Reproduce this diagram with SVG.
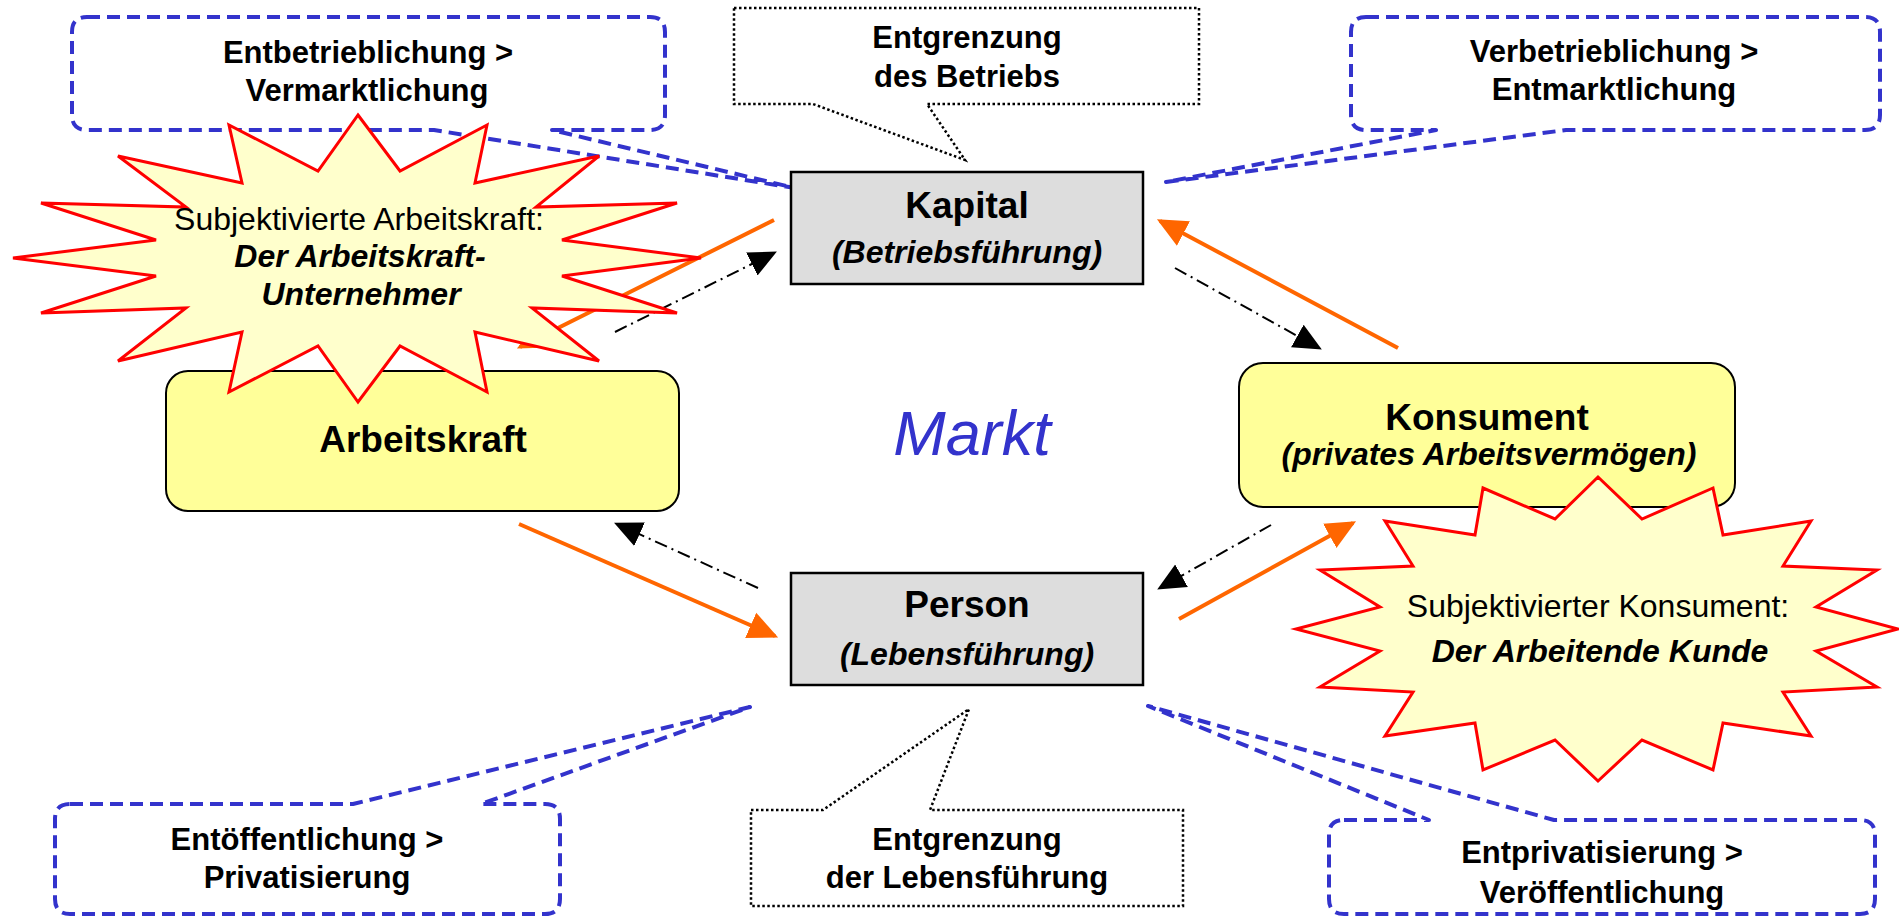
<svg xmlns="http://www.w3.org/2000/svg" width="1899" height="917" viewBox="0 0 1899 917">
<defs>
<style>
.blue{fill:#fff;stroke:#3333CC;stroke-width:4;stroke-dasharray:13 7;stroke-linejoin:round}
.dot{fill:#fff;stroke:#000;stroke-width:2.5;stroke-dasharray:2.5 2.5}
.gray{fill:#DDDDDD;stroke:#000;stroke-width:2.5}
.yel{fill:#FFFF99;stroke:#000;stroke-width:2}
.star{fill:#FFFFCC;stroke:#FF0000;stroke-width:3;stroke-linejoin:miter}
.or{stroke:#FF6600;stroke-width:4;fill:none}
.dd{stroke:#000;stroke-width:2;fill:none;stroke-dasharray:13 5 2 5}
text{font-family:"Liberation Sans",Arial,sans-serif;text-anchor:middle;fill:#000}
.b{font-weight:bold;font-size:31px}
.h{font-weight:bold;font-size:37px}
.bi{font-weight:bold;font-style:italic;font-size:32px}
.r{font-size:32px}
</style>
<marker id="ao" markerUnits="userSpaceOnUse" markerWidth="30" markerHeight="30" viewBox="0 0 26 24" refX="23" refY="12" orient="auto"><path d="M0,0 L26,12 L0,24 Z" fill="#FF6600"/></marker>
<marker id="ab" markerUnits="userSpaceOnUse" markerWidth="28" markerHeight="28" viewBox="0 0 26 24" refX="23" refY="12" orient="auto"><path d="M0,0 L26,12 L0,24 Z" fill="#000"/></marker>
</defs>
<rect width="1899" height="917" fill="#fff"/>

<g id="callout-entgrenzung-betrieb">
<path class="dot" d="M734,8 H1199 V104 H927 L965,160 L813,104 H734 Z"/>
<text class="b" x="967" y="48">Entgrenzung</text>
<text class="b" x="967" y="87">des Betriebs</text>
</g>
<g id="callout-entgrenzung-lebensfuehrung">
<path class="dot" d="M751,810 H823 L969,709 L930,810 H1183 V906 H751 Z"/>
<text class="b" x="967" y="850">Entgrenzung</text>
<text class="b" x="967" y="888">der Lebensführung</text>
</g>
<g id="callout-entbetrieblichung">
<path class="blue" d="M87,17 H650 Q665,17 665,32 V115 Q665,130 650,130 H552 L795,188 L434,130 H87 Q72,130 72,115 V32 Q72,17 87,17 Z"/>
<text class="b" x="368" y="63">Entbetrieblichung &gt;</text>
<text class="b" x="367" y="101">Vermarktlichung</text>
</g>
<g id="callout-verbetrieblichung">
<path class="blue" d="M1366,17 H1865 Q1880,17 1880,32 V115 Q1880,130 1865,130 H1566 L1166,182 L1436,130 H1366 Q1351,130 1351,115 V32 Q1351,17 1366,17 Z"/>
<text class="b" x="1614" y="62">Verbetrieblichung &gt;</text>
<text class="b" x="1614" y="100">Entmarktlichung</text>
</g>
<g id="callout-entoeffentlichung">
<path class="blue" d="M70,804 H353 L750,707 L481,804 H545 Q560,804 560,819 V899 Q560,914 545,914 H70 Q55,914 55,899 V819 Q55,804 70,804 Z"/>
<text class="b" x="307" y="850">Entöffentlichung &gt;</text>
<text class="b" x="307" y="888">Privatisierung</text>
</g>
<g id="callout-entprivatisierung">
<path class="blue" d="M1344,820 H1429 L1148,706 L1554,820 H1860 Q1875,820 1875,835 V899 Q1875,914 1860,914 H1344 Q1329,914 1329,899 V835 Q1329,820 1344,820 Z"/>
<text class="b" x="1602" y="863">Entprivatisierung &gt;</text>
<text class="b" x="1602" y="903">Veröffentlichung</text>
</g>

<g id="kapital">
<rect class="gray" x="791" y="172" width="352" height="112"/>
<text class="h" x="967" y="218">Kapital</text>
<text class="bi" x="967" y="263">(Betriebsführung)</text>
</g>
<g id="person">
<rect class="gray" x="791" y="573" width="352" height="112"/>
<text class="h" x="967" y="617">Person</text>
<text class="bi" x="967" y="665">(Lebensführung)</text>
</g>
<g id="arbeitskraft">
<rect class="yel" x="166" y="371" width="513" height="140" rx="22"/>
<text class="h" x="423" y="452">Arbeitskraft</text>
</g>
<g id="konsument">
<rect class="yel" x="1239" y="363" width="496" height="144" rx="24"/>
<text class="h" x="1487" y="430">Konsument</text>
<text class="bi" x="1489" y="465">(privates Arbeitsvermögen)</text>
</g>
<g id="markt">
<text x="972" y="455" style="font-style:italic;font-size:63px;fill:#3333CC">Markt</text>
</g>

<g id="connectors">
<line class="or" x1="774" y1="220" x2="520" y2="347" marker-end="url(#ao)"/>
<line class="or" x1="1398" y1="348" x2="1160" y2="221" marker-end="url(#ao)"/>
<line class="or" x1="519" y1="524" x2="775" y2="636" marker-end="url(#ao)"/>
<line class="or" x1="1179" y1="619" x2="1353" y2="523" marker-end="url(#ao)"/>
<line class="dd" x1="615" y1="332" x2="774" y2="253" marker-end="url(#ab)"/>
<line class="dd" x1="1175" y1="268" x2="1319" y2="348" marker-end="url(#ab)"/>
<line class="dd" x1="758" y1="588" x2="617" y2="524" marker-end="url(#ab)"/>
<line class="dd" x1="1271" y1="525" x2="1160" y2="588" marker-end="url(#ab)"/>
</g>

<g id="starburst-arbeitskraft">
<polygon class="star" points="358,115 400,171 487,125 475,183 599,156 536,207 677,203 562,240 701,258 562,276 677,313 532,308 599,361 475,332 487,392 400,346 358,402 318,346 229,392 242,332 118,361 186,308 41,313 156,276 13,258 156,240 41,203 186,207 118,156 242,183 229,125 318,171"/>
<text class="r" x="359" y="230">Subjektivierte Arbeitskraft:</text>
<text class="bi" x="360" y="267">Der Arbeitskraft-</text>
<text class="bi" x="361" y="305">Unternehmer</text>
</g>
<g id="starburst-konsument">
<polygon class="star" points="1598,477 1642,519 1713,488 1723,535 1811,521 1783,566 1877,570 1816,607 1898,629 1816,651 1877,687 1783,692 1811,736 1723,723 1713,770 1642,740 1598,781 1555,740 1483,770 1475,723 1385,736 1413,692 1320,687 1380,651 1296,629 1380,607 1320,570 1413,566 1385,521 1475,535 1483,488 1555,519"/>
<text class="r" x="1598" y="617">Subjektivierter Konsument:</text>
<text class="bi" x="1600" y="662">Der Arbeitende Kunde</text>
</g>
</svg>
